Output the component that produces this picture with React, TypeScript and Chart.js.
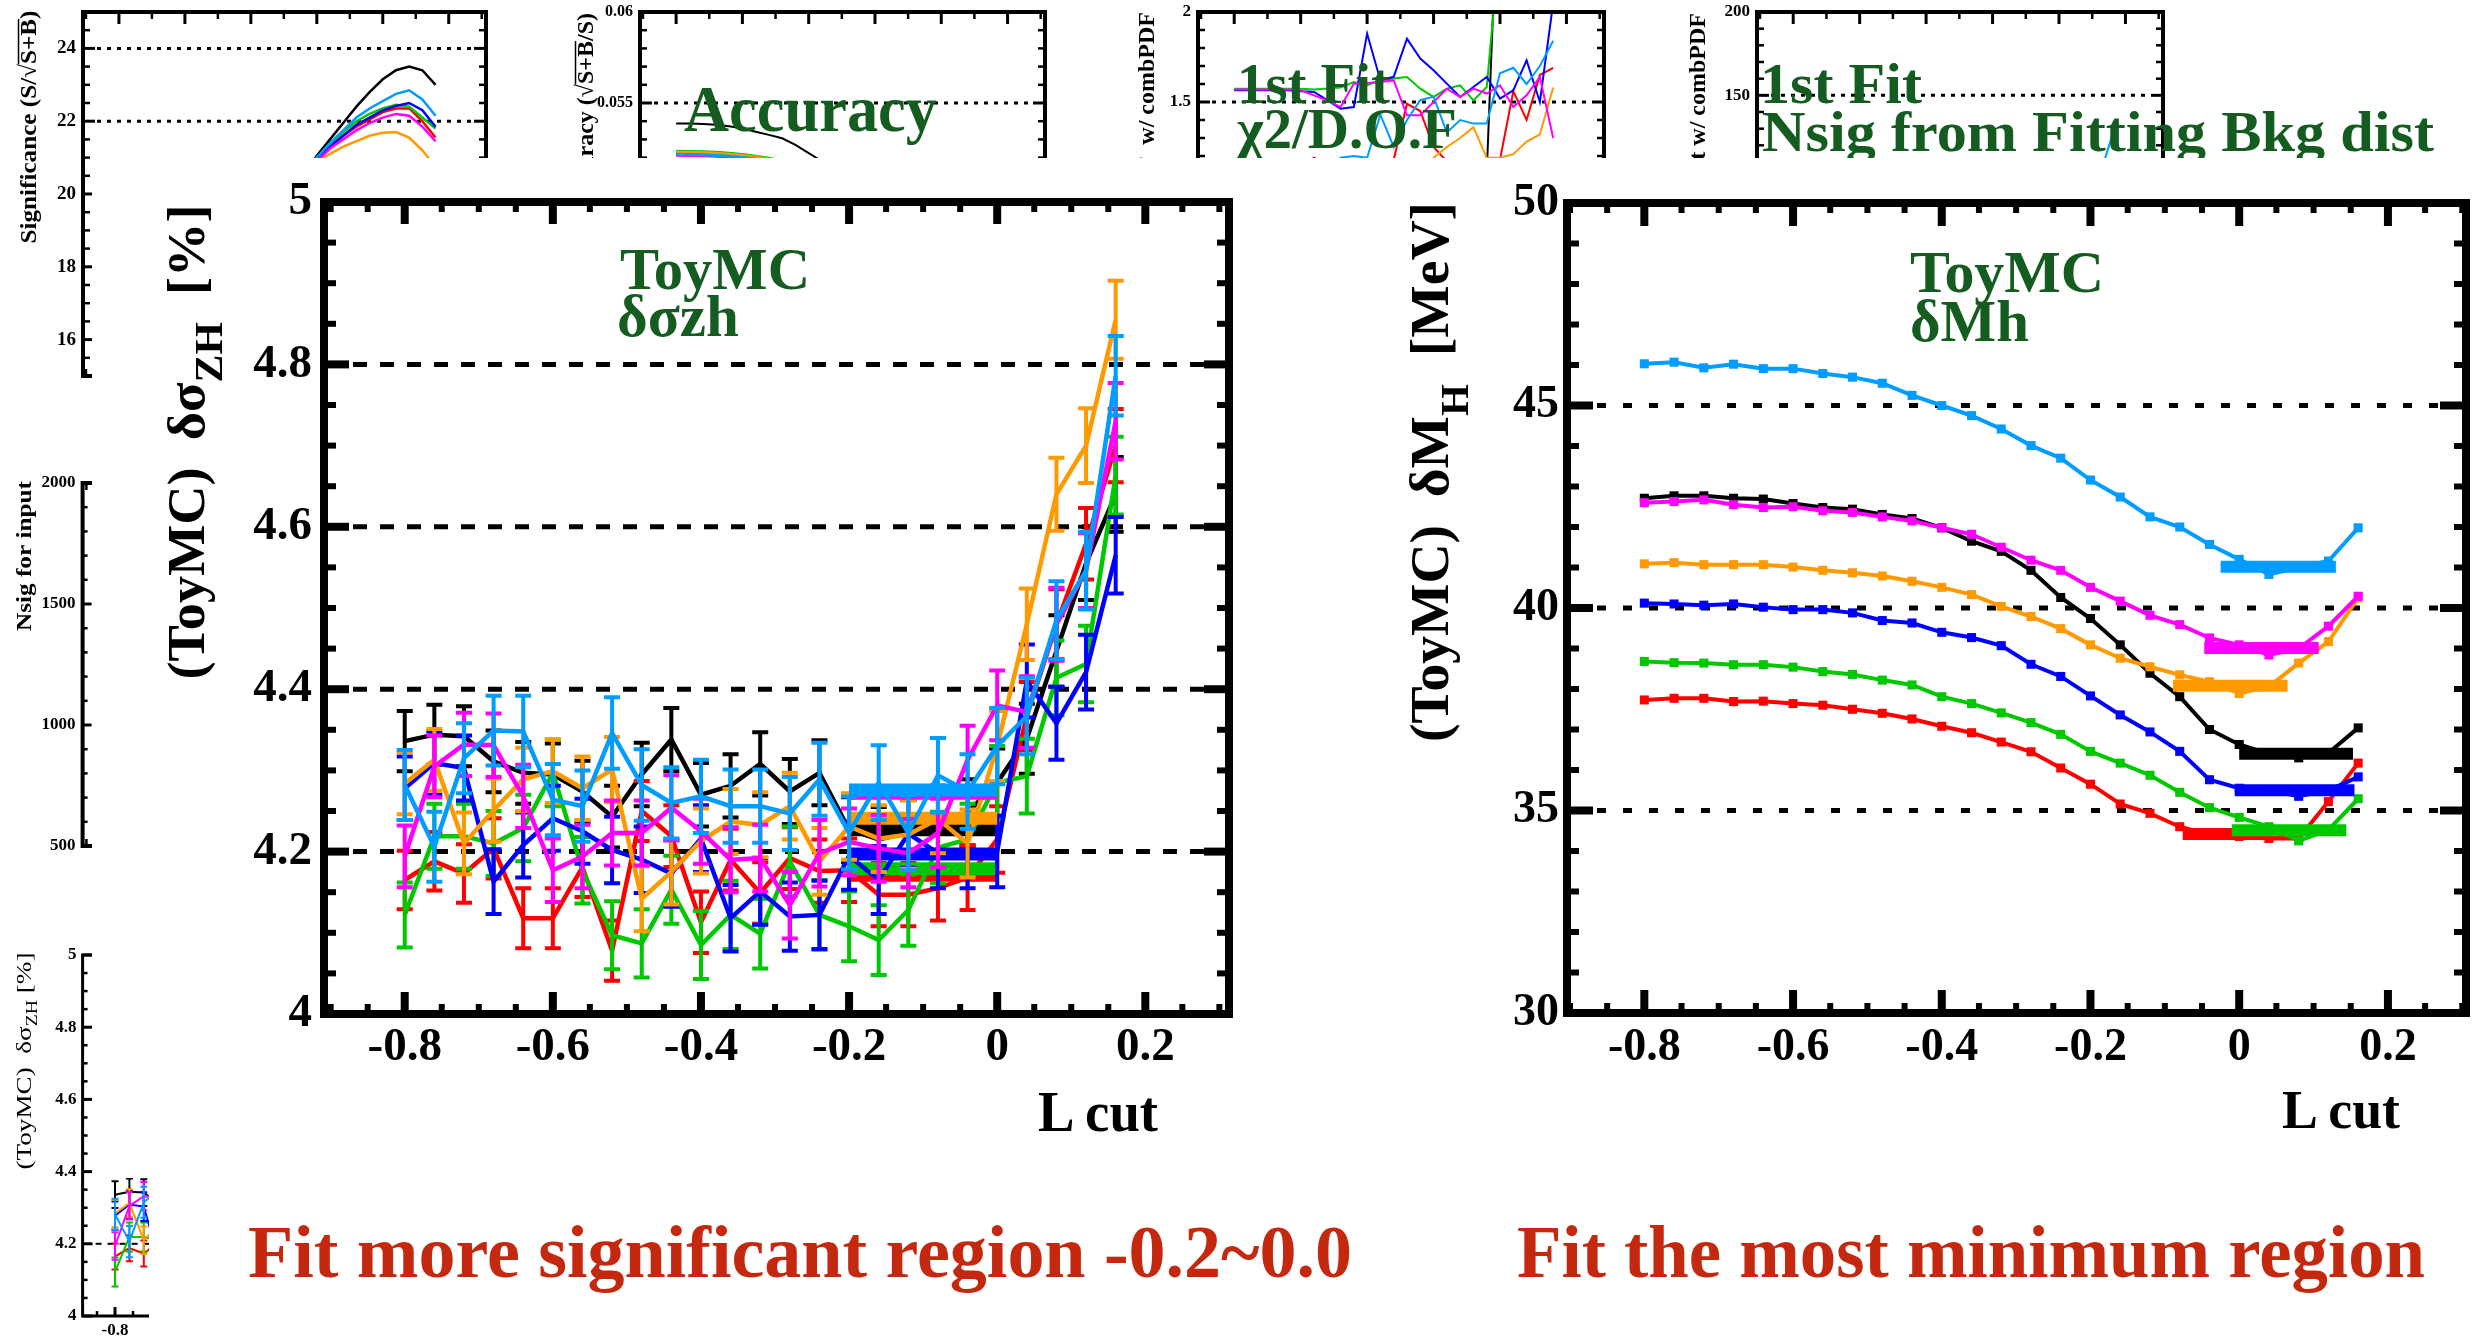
import React, { useEffect, useRef } from 'react';
import { Chart, registerables } from 'chart.js';

Chart.register(...registerables);

const W = 2477;
const H = 1341;
const SERIF = '"Liberation Serif", "Times New Roman", serif';
const GREEN_TEXT = '#145c20';
const RED_TEXT = '#c4290f';

// ---------------- categories (L cut) ----------------
const L_CUT = [-0.8, -0.76, -0.72, -0.68, -0.64, -0.6, -0.56, -0.52, -0.48, -0.44, -0.4, -0.36, -0.32, -0.28, -0.24, -0.2, -0.16, -0.12, -0.08, -0.04, 0, 0.04, 0.08, 0.12, 0.16];

// series order: black, red, green, blue, orange, magenta, light blue
const SERIES_COLORS = ['#000000', '#ff0000', '#00c800', '#0000ff', '#ff9900', '#ff00ff', '#009cff'];

// ---------------- δσZH [%] (ToyMC) ----------------
const DSIG_BLACK = [4.336, 4.344, 4.342, 4.311, 4.297, 4.295, 4.274, 4.243, 4.295, 4.338, 4.27, 4.281, 4.308, 4.274, 4.297, 4.227, 4.215, 4.223, 4.235, 4.248, 4.285, 4.339, 4.447, 4.555, 4.64];
const DSIG_RED = [4.165, 4.188, 4.173, 4.204, 4.118, 4.118, 4.181, 4.078, 4.25, 4.219, 4.113, 4.19, 4.149, 4.192, 4.176, 4.177, 4.147, 4.147, 4.155, 4.168, 4.215, 4.367, 4.48, 4.579, 4.7];
const DSIG_GREEN = [4.122, 4.219, 4.219, 4.21, 4.229, 4.297, 4.177, 4.097, 4.087, 4.153, 4.085, 4.122, 4.099, 4.188, 4.122, 4.108, 4.091, 4.128, 4.205, 4.215, 4.285, 4.293, 4.414, 4.431, 4.663];
const DSIG_BLUE = [4.278, 4.309, 4.303, 4.163, 4.208, 4.241, 4.225, 4.202, 4.19, 4.173, 4.216, 4.118, 4.151, 4.12, 4.122, 4.195, 4.165, 4.222, 4.198, 4.198, 4.2, 4.41, 4.358, 4.421, 4.565];
const DSIG_ORANGE = [4.284, 4.313, 4.21, 4.251, 4.289, 4.299, 4.278, 4.301, 4.142, 4.175, 4.213, 4.237, 4.233, 4.256, 4.188, 4.231, 4.216, 4.221, 4.24, 4.21, 4.33, 4.48, 4.64, 4.7, 4.855];
const DSIG_MAGENTA = [4.194, 4.305, 4.332, 4.331, 4.268, 4.177, 4.194, 4.223, 4.223, 4.254, 4.225, 4.19, 4.192, 4.134, 4.198, 4.212, 4.204, 4.198, 4.223, 4.313, 4.38, 4.372, 4.48, 4.546, 4.73];
const DSIG_LIGHTBLUE = [4.282, 4.206, 4.315, 4.349, 4.348, 4.264, 4.256, 4.346, 4.282, 4.26, 4.268, 4.256, 4.256, 4.247, 4.289, 4.223, 4.285, 4.223, 4.294, 4.274, 4.33, 4.367, 4.485, 4.546, 4.786];

const DSIG_ERR_BLACK = [0.037, 0.037, 0.037, 0.038, 0.038, 0.038, 0.038, 0.038, 0.039, 0.039, 0.039, 0.039, 0.039, 0.04, 0.04, 0.04, 0.04, 0.041, 0.041, 0.041, 0.042, 0.043, 0.044, 0.045, 0.046];
const DSIG_ERR_RED = [0.036, 0.036, 0.036, 0.037, 0.037, 0.037, 0.037, 0.037, 0.037, 0.038, 0.038, 0.038, 0.038, 0.038, 0.039, 0.039, 0.039, 0.039, 0.04, 0.04, 0.041, 0.042, 0.043, 0.044, 0.045];
const DSIG_ERR_GREEN = [0.04, 0.04, 0.04, 0.04, 0.041, 0.041, 0.041, 0.042, 0.042, 0.042, 0.042, 0.042, 0.043, 0.043, 0.043, 0.043, 0.043, 0.044, 0.044, 0.044, 0.045, 0.046, 0.046, 0.047, 0.048];
const DSIG_ERR_BLUE = [0.039, 0.039, 0.04, 0.04, 0.04, 0.04, 0.04, 0.041, 0.041, 0.041, 0.041, 0.041, 0.041, 0.042, 0.042, 0.042, 0.042, 0.042, 0.043, 0.043, 0.044, 0.045, 0.045, 0.046, 0.047];
const DSIG_ERR_ORANGE = [0.038, 0.038, 0.038, 0.039, 0.039, 0.039, 0.039, 0.04, 0.04, 0.04, 0.04, 0.04, 0.04, 0.041, 0.041, 0.041, 0.041, 0.042, 0.042, 0.042, 0.043, 0.044, 0.045, 0.046, 0.048];
const DSIG_ERR_MAGENTA = [0.038, 0.038, 0.039, 0.039, 0.039, 0.039, 0.039, 0.04, 0.04, 0.04, 0.04, 0.04, 0.041, 0.041, 0.041, 0.041, 0.041, 0.042, 0.042, 0.042, 0.043, 0.044, 0.045, 0.046, 0.047];
const DSIG_ERR_LIGHTBLUE = [0.043, 0.043, 0.043, 0.043, 0.044, 0.044, 0.044, 0.044, 0.044, 0.044, 0.045, 0.045, 0.045, 0.045, 0.045, 0.045, 0.046, 0.046, 0.046, 0.046, 0.047, 0.047, 0.048, 0.048, 0.049];

const DSIG_FIT_LEVEL = [4.227, 4.171, 4.179, 4.197, 4.241, 4.272, 4.276];
const DSIG_FIT_RANGE = [-0.2, 0];

const DSIG_SERIES = [DSIG_BLACK, DSIG_RED, DSIG_GREEN, DSIG_BLUE, DSIG_ORANGE, DSIG_MAGENTA, DSIG_LIGHTBLUE];
const DSIG_ERRORS = [DSIG_ERR_BLACK, DSIG_ERR_RED, DSIG_ERR_GREEN, DSIG_ERR_BLUE, DSIG_ERR_ORANGE, DSIG_ERR_MAGENTA, DSIG_ERR_LIGHTBLUE];

// ---------------- δMH [MeV] (ToyMC) ----------------
const DMH_BLACK = [42.71, 42.77, 42.77, 42.71, 42.69, 42.58, 42.48, 42.44, 42.31, 42.21, 41.98, 41.65, 41.4, 40.93, 40.26, 39.74, 39.09, 38.39, 37.81, 37.0, 36.63, 36.4, 36.3, 36.42, 37.04];
const DMH_RED = [37.73, 37.77, 37.77, 37.69, 37.7, 37.64, 37.6, 37.5, 37.4, 37.26, 37.08, 36.92, 36.69, 36.45, 36.05, 35.65, 35.16, 34.93, 34.6, 34.4, 34.36, 34.31, 34.31, 35.22, 36.17];
const DMH_GREEN = [38.68, 38.65, 38.64, 38.6, 38.6, 38.54, 38.43, 38.36, 38.22, 38.1, 37.81, 37.64, 37.41, 37.17, 36.88, 36.46, 36.17, 35.87, 35.45, 35.07, 34.83, 34.6, 34.25, 34.52, 35.29];
const DMH_BLUE = [40.12, 40.1, 40.07, 40.1, 40.02, 39.96, 39.96, 39.88, 39.69, 39.63, 39.4, 39.27, 39.07, 38.61, 38.31, 37.83, 37.36, 36.94, 36.46, 35.76, 35.55, 35.5, 35.35, 35.5, 35.83];
const DMH_ORANGE = [41.09, 41.12, 41.07, 41.07, 41.07, 41.01, 40.93, 40.87, 40.79, 40.66, 40.51, 40.33, 40.04, 39.79, 39.49, 39.09, 38.76, 38.55, 38.35, 38.18, 37.89, 38.06, 38.64, 39.17, 40.25];
const DMH_MAGENTA = [42.6, 42.63, 42.67, 42.55, 42.48, 42.5, 42.4, 42.36, 42.25, 42.15, 41.98, 41.82, 41.5, 41.18, 40.93, 40.51, 40.17, 39.82, 39.59, 39.26, 39.09, 38.84, 39.0, 39.55, 40.29];
const DMH_LIGHTBLUE = [46.03, 46.07, 45.93, 46.02, 45.91, 45.91, 45.79, 45.7, 45.55, 45.25, 45.0, 44.75, 44.42, 44.01, 43.7, 43.16, 42.74, 42.25, 42.0, 41.57, 41.2, 40.83, 41.0, 41.16, 41.98];

const DMH_FIT_LEVEL = [36.4, 34.42, 34.51, 35.5, 38.08, 39.01, 41.02];
const DMH_FIT_FROM = [0.0, -0.076, -0.01, -0.006, -0.089, -0.047, -0.025];
const DMH_FIT_TO = [0.153, 0.078, 0.144, 0.155, 0.065, 0.107, 0.13];

const DMH_SERIES = [DMH_BLACK, DMH_RED, DMH_GREEN, DMH_BLUE, DMH_ORANGE, DMH_MAGENTA, DMH_LIGHTBLUE];

// ---------------- background fragments ----------------
const SIG_X = [-0.24, -0.2, -0.16, -0.12, -0.08, -0.04, 0, 0.04, 0.08, 0.12, 0.16];
const SIG_BLACK = [20.5, 21.05, 21.5, 21.95, 22.4, 22.8, 23.15, 23.4, 23.5, 23.4, 23.0];
const SIG_RED = [20.5, 20.95, 21.3, 21.6, 21.85, 22.05, 22.25, 22.35, 22.35, 22.0, 21.55];
const SIG_GREEN = [20.5, 21.0, 21.35, 21.7, 22.0, 22.2, 22.35, 22.45, 22.4, 22.1, 21.8];
const SIG_BLUE = [20.5, 20.95, 21.3, 21.6, 21.9, 22.1, 22.3, 22.42, 22.5, 22.3, 21.85];
const SIG_ORANGE = [20.45, 20.9, 21.1, 21.3, 21.45, 21.6, 21.68, 21.7, 21.55, 21.2, 20.75];
const SIG_MAGENTA = [20.45, 20.9, 21.25, 21.5, 21.75, 21.95, 22.1, 22.2, 22.15, 21.85, 21.45];
const SIG_LIGHTBLUE = [20.5, 21.0, 21.4, 21.75, 22.1, 22.35, 22.55, 22.75, 22.85, 22.6, 22.15];
const SIG_SERIES = [SIG_BLACK, SIG_RED, SIG_GREEN, SIG_BLUE, SIG_ORANGE, SIG_MAGENTA, SIG_LIGHTBLUE];

const ACC_X = [-0.8, -0.76, -0.72, -0.68, -0.64, -0.6, -0.56, -0.52, -0.48, -0.44, -0.4, -0.36];
const ACC_BLACK = [0.05388, 0.05387, 0.05385, 0.0538, 0.05372, 0.0536, 0.05342, 0.05325, 0.05306, 0.0527, 0.05225, 0.0518];
const ACC_RED = [0.05226, 0.05225, 0.05223, 0.0522, 0.05215, 0.05208, 0.05199, 0.05187, 0.05171, 0.05151, 0.05121, 0.05091];
const ACC_GREEN = [0.05235, 0.05234, 0.05232, 0.05229, 0.05224, 0.05217, 0.05208, 0.05196, 0.0518, 0.0516, 0.0513, 0.051];
const ACC_BLUE = [0.05222, 0.05221, 0.05219, 0.05216, 0.05211, 0.05204, 0.05195, 0.05183, 0.05167, 0.05147, 0.05117, 0.05087];
const ACC_ORANGE = [0.0523, 0.05229, 0.05227, 0.05224, 0.05219, 0.05212, 0.05203, 0.05191, 0.05175, 0.05155, 0.05125, 0.05095];
const ACC_MAGENTA = [0.05213, 0.05212, 0.0521, 0.05207, 0.05202, 0.05195, 0.05186, 0.05174, 0.05158, 0.05138, 0.05108, 0.05078];
const ACC_LIGHTBLUE = [0.05218, 0.05217, 0.05215, 0.05212, 0.05207, 0.052, 0.05191, 0.05179, 0.05163, 0.05143, 0.05113, 0.05083];
const ACC_SERIES = [ACC_BLACK, ACC_RED, ACC_GREEN, ACC_BLUE, ACC_ORANGE, ACC_MAGENTA, ACC_LIGHTBLUE];

const CHI2_BLACK = [1.05, 1.05, 1.05, 1.05, 1.05, 1.05, 1.05, 1.05, 1.05, 1.05, 1.05, 1.05, 1.05, 1.05, 1.05, 1.05, 1.05, 1.05, 1.05, 1.1, 3.0, 3.0, 3.0, 3.0, 3.0];
const CHI2_RED = [1.12, 1.12, 1.12, 1.12, 1.12, 1.12, 1.19, 1.15, 1.12, 1.12, 1.12, 1.12, 1.18, 1.49, 1.45, 1.25, 1.17, 1.1, 1.12, 1.15, 1.18, 1.56, 1.4, 1.65, 1.69];
const CHI2_GREEN = [1.574, 1.574, 1.574, 1.574, 1.574, 1.574, 1.57, 1.575, 1.58, 1.611, 1.593, 1.62, 1.63, 1.639, 1.574, 1.528, 1.574, 1.593, 1.509, 1.583, 2.4, 2.4, 2.4, 2.4, 2.4];
const CHI2_BLUE = [1.565, 1.565, 1.565, 1.565, 1.565, 1.56, 1.556, 1.51, 1.463, 1.472, 1.88, 1.62, 1.64, 1.852, 1.741, 1.676, 1.602, 1.528, 1.583, 1.639, 1.519, 1.565, 1.732, 1.5, 2.05];
const CHI2_ORANGE = [1.0, 1.0, 1.0, 1.0, 1.0, 1.0, 1.0, 1.0, 1.0, 1.0, 1.0, 1.0, 1.0, 1.0, 1.0, 1.19, 1.25, 1.3, 1.36, 1.19, 1.19, 1.21, 1.28, 1.32, 1.58];
const CHI2_MAGENTA = [1.57, 1.57, 1.57, 1.57, 1.57, 1.565, 1.537, 1.509, 1.472, 1.602, 1.605, 1.611, 1.62, 1.426, 1.426, 1.5, 1.574, 1.528, 1.574, 1.547, 1.593, 1.472, 1.537, 1.639, 1.3];
const CHI2_LIGHTBLUE = [1.1, 1.1, 1.1, 1.1, 1.1, 1.1, 1.1, 1.1, 1.19, 1.2, 1.19, 1.43, 1.25, 1.4, 1.51, 1.53, 1.33, 1.4, 1.38, 1.38, 1.66, 1.69, 1.6, 1.7, 1.84];
const CHI2_SERIES = [CHI2_BLACK, CHI2_RED, CHI2_GREEN, CHI2_BLUE, CHI2_ORANGE, CHI2_MAGENTA, CHI2_LIGHTBLUE];

const NSIG_X = [0.12, 0.16];
const NSIG_LIGHTBLUE = [100, 126];

// ---------------- ticks ----------------
const LCUT_TICKS = [-0.8, -0.6, -0.4, -0.2, 0, 0.2];
const LCUT_TICK_LABELS = ['-0.8', '-0.6', '-0.4', '-0.2', '0', '0.2'];
const DSIG_Y_TICKS = [4, 4.2, 4.4, 4.6, 4.8, 5];
const DSIG_Y_LABELS = ['4', '4.2', '4.4', '4.6', '4.8', '5'];
const DMH_Y_TICKS = [30, 35, 40, 45, 50];
const DMH_Y_LABELS = ['30', '35', '40', '45', '50'];
const SIG_Y_TICKS = [16, 18, 20, 22, 24];
const SIG_Y_LABELS = ['16', '18', '20', '22', '24'];
const ACC_Y_TICKS = [0.05, 0.055, 0.06];
const ACC_Y_LABELS = ['0.05', '0.055', '0.06'];
const CHI2_Y_TICKS = [0.5, 1, 1.5, 2];
const CHI2_Y_LABELS = ['0.5', '1', '1.5', '2'];
const NSIG_Y_TICKS = [50, 100, 150, 200];
const NSIG_Y_LABELS = ['50', '100', '150', '200'];
const NSIGIN_Y_TICKS = [500, 1000, 1500, 2000];
const NSIGIN_Y_LABELS = ['500', '1000', '1500', '2000'];

// ---------------- drawing helpers ----------------
type Rich = { t: string; size: number; weight?: string; dy?: number; over?: boolean };
type Title = { parts: Rich[]; x: number; y: number; rotate?: boolean; length?: number; anchor?: 'center' | 'end' | 'start'; color?: string };

function drawRich(ctx: CanvasRenderingContext2D, tt: Title) {
  ctx.save();
  ctx.fillStyle = tt.color || '#000';
  ctx.textAlign = 'left';
  ctx.textBaseline = 'alphabetic';
  const fonts = tt.parts.map((p) => `${p.weight || 'bold'} ${p.size}px ${SERIF}`);
  const widths = tt.parts.map((p, i) => {
    ctx.font = fonts[i];
    return ctx.measureText(p.t).width;
  });
  const total = widths.reduce((s, w) => s + w, 0);
  const k = tt.length ? tt.length / total : 1;
  ctx.translate(tt.x, tt.y);
  if (tt.rotate) ctx.rotate(-Math.PI / 2);
  ctx.scale(k, 1);
  let cx = tt.anchor === 'end' ? -total : tt.anchor === 'start' ? 0 : -total / 2;
  tt.parts.forEach((p, i) => {
    ctx.font = fonts[i];
    const dy = p.dy || 0;
    ctx.fillText(p.t, cx, dy);
    if (p.over) ctx.fillRect(cx, dy - p.size * 0.76, widths[i], Math.max(1.5, p.size * 0.06));
    cx += widths[i];
  });
  ctx.restore();
}

function minorValues(min: number, max: number, step: number, majors: number[]) {
  const out: number[] = [];
  const n0 = Math.ceil(min / step - 1e-9);
  const n1 = Math.floor(max / step + 1e-9);
  for (let n = n0; n <= n1; n++) {
    const v = +(n * step).toFixed(6);
    if (!majors.some((m) => Math.abs(m - v) < step * 1e-3)) out.push(v);
  }
  return out;
}

function makeAxesPlugin(cfg: any) {
  return {
    id: 'frameAxes',
    beforeDatasetsDraw(chart: any) {
      const { ctx, chartArea: a, scales } = chart;
      if (!cfg.grid) return;
      ctx.save();
      ctx.strokeStyle = '#000';
      ctx.lineWidth = cfg.gridW;
      ctx.setLineDash(cfg.gridDash);
      ctx.lineCap = 'butt';
      for (const v of cfg.grid) {
        const y = scales.y.getPixelForValue(v);
        ctx.beginPath();
        ctx.moveTo(a.left + cfg.yMajLen + cfg.gridGap, y);
        ctx.lineTo(a.right - cfg.yMajLen, y);
        ctx.stroke();
      }
      ctx.restore();
    },
    afterDatasetsDraw(chart: any) {
      const { ctx, chartArea: a, scales } = chart;
      const xs = scales.x;
      const ys = scales.y;
      ctx.save();
      ctx.strokeStyle = '#000';
      ctx.fillStyle = '#000';
      ctx.lineCap = 'butt';
      ctx.setLineDash([]);
      const seg = (x1: number, y1: number, x2: number, y2: number, w: number) => {
        ctx.lineWidth = w;
        ctx.beginPath();
        ctx.moveTo(x1, y1);
        ctx.lineTo(x2, y2);
        ctx.stroke();
      };
      const inX = (p: number) => p > a.left + 1 && p < a.right - 1;
      const xMinor = minorValues(xs.min, xs.max, cfg.xMinorStep, cfg.xMajor);
      const yMinor = minorValues(ys.min, ys.max, cfg.yMinorStep, cfg.yMajor);
      for (const v of cfg.xMajor) {
        const p = xs.getPixelForValue(v);
        if (!inX(p)) continue;
        seg(p, a.bottom, p, a.bottom - cfg.xMajLen, cfg.majW);
        seg(p, a.top, p, a.top + cfg.xMajLen, cfg.majW);
      }
      for (const v of xMinor) {
        const p = xs.getPixelForValue(v);
        if (!inX(p)) continue;
        seg(p, a.bottom, p, a.bottom - cfg.xMinLen, cfg.minW);
        seg(p, a.top, p, a.top + cfg.xMinLen, cfg.minW);
      }
      for (const v of cfg.yMajor) {
        const p = ys.getPixelForValue(v);
        seg(a.left, p, a.left + cfg.yMajLen, p, cfg.majW);
        seg(a.right, p, a.right - cfg.yMajLen, p, cfg.majW);
      }
      for (const v of yMinor) {
        const p = ys.getPixelForValue(v);
        if (p < a.top + 1 || p > a.bottom - 1) continue;
        seg(a.left, p, a.left + cfg.yMinLen, p, cfg.minW);
        seg(a.right, p, a.right - cfg.yMinLen, p, cfg.minW);
      }
      ctx.lineWidth = cfg.frameW;
      ctx.lineJoin = 'miter';
      ctx.strokeRect(a.left, a.top, a.right - a.left, a.bottom - a.top);

      if (cfg.xLabels) {
        ctx.font = cfg.xFont;
        ctx.textAlign = 'center';
        ctx.textBaseline = 'alphabetic';
        cfg.xMajor.forEach((v: number, i: number) => {
          ctx.fillText(cfg.xLabels[i], xs.getPixelForValue(v), a.bottom + cfg.xLabelDy);
        });
      }
      if (cfg.yLabels) {
        ctx.font = cfg.yFont;
        ctx.textAlign = 'right';
        ctx.textBaseline = 'middle';
        cfg.yMajor.forEach((v: number, i: number) => {
          ctx.fillText(cfg.yLabels[i], a.left - cfg.yLabelGap, ys.getPixelForValue(v));
        });
      }
      (cfg.titles || []).forEach((t: Title) => drawRich(ctx, t));
      ctx.restore();
    },
  };
}

const errorBarsPlugin = {
  id: 'errBars',
  afterDatasetDraw(chart: any, args: any) {
    const ds: any = chart.data.datasets[args.index];
    if (!ds.errors) return;
    const ctx = chart.ctx;
    const ys = chart.scales.y;
    const a = chart.chartArea;
    ctx.save();
    ctx.beginPath();
    ctx.rect(a.left, a.top, a.right - a.left, a.bottom - a.top);
    ctx.clip();
    ctx.strokeStyle = ds.borderColor;
    ctx.lineWidth = ds.errWidth;
    ctx.lineCap = 'butt';
    args.meta.data.forEach((pt: any, i: number) => {
      const v = ds.data[i].y;
      const e = ds.errors[i];
      const x = pt.x;
      const y1 = ys.getPixelForValue(v + e);
      const y2 = ys.getPixelForValue(v - e);
      ctx.beginPath();
      ctx.moveTo(x, y1);
      ctx.lineTo(x, y2);
      ctx.moveTo(x - ds.capHalf, y1);
      ctx.lineTo(x + ds.capHalf, y1);
      ctx.moveTo(x - ds.capHalf, y2);
      ctx.lineTo(x + ds.capHalf, y2);
      ctx.stroke();
    });
    ctx.restore();
  },
};

function lineDS(xs: number[], ys: number[], color: string, width: number, order: number, extra: any = {}) {
  return {
    data: xs.map((x, i) => ({ x, y: ys[i] })),
    borderColor: color,
    backgroundColor: color,
    borderWidth: width,
    pointRadius: 0,
    fill: false,
    tension: 0,
    order,
    ...extra,
  };
}

function buildConfig(area: { left: number; top: number; right: number; bottom: number }, xr: number[], yr: number[], datasets: any[], axes: any) {
  return {
    type: 'line',
    data: { datasets },
    options: {
      animation: false,
      responsive: false,
      events: [],
      layout: { padding: { left: area.left, top: area.top, right: W - area.right, bottom: H - area.bottom } },
      scales: {
        x: { type: 'linear', display: false, min: xr[0], max: xr[1] },
        y: { type: 'linear', display: false, min: yr[0], max: yr[1] },
      },
      plugins: { legend: { display: false }, tooltip: { enabled: false } },
    },
    plugins: [makeAxesPlugin(axes), errorBarsPlugin],
  };
}

function fragmentAxes(extra: any) {
  return {
    frameW: 4,
    majW: 3,
    minW: 2.5,
    xMajLen: 12,
    xMinLen: 7,
    yMajLen: 12,
    yMinLen: 7,
    xMajor: LCUT_TICKS,
    xMinorStep: 0.1,
    gridDash: [4, 6],
    gridW: 3,
    gridGap: 2,
    yFont: `bold 17px ${SERIF}`,
    yLabelGap: 7,
    ...extra,
  };
}

// ---------------- chart builders ----------------
function buildLeft() {
  const ds: any[] = [];
  DSIG_SERIES.forEach((ys, s) => {
    ds.push(lineDS(L_CUT, ys, SERIES_COLORS[s], 4.5, 100 - 2 * s, { errors: DSIG_ERRORS[s], errWidth: 4, capHalf: 8 }));
    ds.push(lineDS(DSIG_FIT_RANGE, [DSIG_FIT_LEVEL[s], DSIG_FIT_LEVEL[s]], SERIES_COLORS[s], 13, 99 - 2 * s, { borderCapStyle: 'butt' }));
  });
  return buildConfig({ left: 324, top: 202, right: 1229, bottom: 1014 }, [-0.909, 0.313], [4, 5], ds, {
    frameW: 8, majW: 8, minW: 6, xMajLen: 22, xMinLen: 10, yMajLen: 25, yMinLen: 12,
    xMajor: LCUT_TICKS, xMinorStep: 0.05, yMajor: DSIG_Y_TICKS, yMinorStep: 0.05,
    xLabels: LCUT_TICK_LABELS, yLabels: DSIG_Y_LABELS,
    xFont: `bold 47px ${SERIF}`, yFont: `bold 47px ${SERIF}`, xLabelDy: 46, yLabelGap: 12,
    grid: [4.2, 4.4, 4.6, 4.8], gridDash: [14, 13], gridW: 5, gridGap: 4,
    titles: [{
      parts: [{ t: '(ToyMC)  δσ', size: 52 }, { t: 'ZH', size: 40, dy: 18 }, { t: '  [%]', size: 52 }],
      x: 204, y: 442, rotate: true, length: 475,
    }],
  });
}

function buildRight() {
  const ds: any[] = [];
  DMH_SERIES.forEach((ys, s) => {
    ds.push(lineDS(L_CUT, ys, SERIES_COLORS[s], 4, 100 - 2 * s, { pointRadius: 6.4, pointStyle: 'rect', pointBorderWidth: 0, pointBackgroundColor: SERIES_COLORS[s] }));
    ds.push(lineDS([DMH_FIT_FROM[s], DMH_FIT_TO[s]], [DMH_FIT_LEVEL[s], DMH_FIT_LEVEL[s]], SERIES_COLORS[s], 12, 99 - 2 * s, { borderCapStyle: 'butt' }));
  });
  return buildConfig({ left: 1567, top: 203, right: 2466, bottom: 1013 }, [-0.904, 0.305], [30, 50], ds, {
    frameW: 8, majW: 8, minW: 6, xMajLen: 23, xMinLen: 10, yMajLen: 26, yMinLen: 12,
    xMajor: LCUT_TICKS, xMinorStep: 0.05, yMajor: DMH_Y_TICKS, yMinorStep: 1,
    xLabels: LCUT_TICK_LABELS, yLabels: DMH_Y_LABELS,
    xFont: `bold 46px ${SERIF}`, yFont: `bold 46px ${SERIF}`, xLabelDy: 47, yLabelGap: 8,
    grid: [35, 40, 45], gridDash: [9, 17], gridW: 5, gridGap: 4,
    titles: [{
      parts: [{ t: '(ToyMC)  δM', size: 54 }, { t: 'H', size: 40, dy: 20 }, { t: '  [MeV]', size: 54 }],
      x: 1448, y: 472, rotate: true, length: 540,
    }],
  });
}

function buildMini() {
  const ds: any[] = [];
  DSIG_SERIES.forEach((ys, s) => {
    ds.push(lineDS(L_CUT, ys, SERIES_COLORS[s], 2, 100 - 2 * s, { errors: DSIG_ERRORS[s], errWidth: 2, capHalf: 3.5 }));
    ds.push(lineDS(DSIG_FIT_RANGE, [DSIG_FIT_LEVEL[s], DSIG_FIT_LEVEL[s]], SERIES_COLORS[s], 6, 99 - 2 * s, { borderCapStyle: 'butt' }));
  });
  return buildConfig({ left: 82.6, top: 955, right: 514.6, bottom: 1316 }, [-0.89, 0.31], [4, 5], ds, {
    frameW: 3, majW: 3, minW: 2.5, xMajLen: 9, xMinLen: 5, yMajLen: 10, yMinLen: 5,
    xMajor: LCUT_TICKS, xMinorStep: 0.05, yMajor: DSIG_Y_TICKS, yMinorStep: 0.05,
    xLabels: LCUT_TICK_LABELS, yLabels: DSIG_Y_LABELS,
    xFont: `bold 17px ${SERIF}`, yFont: `bold 17px ${SERIF}`, xLabelDy: 19, yLabelGap: 6,
    grid: [4.2, 4.4, 4.6, 4.8], gridDash: [6, 6], gridW: 2, gridGap: 3,
    titles: [{
      parts: [{ t: '(ToyMC)  δσ', size: 22, weight: 'normal' }, { t: 'ZH', size: 16, dy: 6, weight: 'normal' }, { t: ' [%]', size: 22, weight: 'normal' }],
      x: 31, y: 1061, rotate: true, length: 217,
    }],
  });
}

function buildSig() {
  const ds = SIG_SERIES.map((ys, s) => lineDS(SIG_X, ys, SERIES_COLORS[s], 2.5, 100 - s));
  return buildConfig({ left: 83, top: 12, right: 486, bottom: 376 }, [-0.909, 0.313], [15, 25], ds, fragmentAxes({
    yMajor: SIG_Y_TICKS, yMinorStep: 0.5, yLabels: SIG_Y_LABELS, yFont: `bold 19px ${SERIF}`,
    grid: [22, 24],
    titles: [{
      parts: [{ t: 'Significance (S/√', size: 24 }, { t: 'S+B', size: 24, over: true }, { t: ')', size: 24 }],
      x: 36, y: 127, rotate: true, length: 233,
    }],
  }));
}

function buildAcc() {
  const ds = ACC_SERIES.map((ys, s) => lineDS(ACC_X, ys, SERIES_COLORS[s], s === 0 ? 2 : 3, s === 0 ? 50 : 100 - s));
  return buildConfig({ left: 640, top: 12, right: 1045, bottom: 285 }, [-0.909, 0.313], [0.045, 0.06], ds, fragmentAxes({
    yMajor: ACC_Y_TICKS, yMinorStep: 0.001, yLabels: ACC_Y_LABELS, yFont: `bold 16px ${SERIF}`,
    grid: [0.055],
    titles: [{
      parts: [{ t: 'Accuracy (√', size: 24 }, { t: 'S+B', size: 24, over: true }, { t: '/S)', size: 24 }],
      x: 593, y: 13, rotate: true, anchor: 'end',
    }],
  }));
}

function buildChi2() {
  const ds = CHI2_SERIES.map((ys, s) => lineDS(L_CUT, ys, SERIES_COLORS[s], 2, 100 - s));
  return buildConfig({ left: 1198, top: 12, right: 1604, bottom: 282 }, [-0.909, 0.313], [0.5, 2], ds, fragmentAxes({
    yMajor: CHI2_Y_TICKS, yMinorStep: 0.1, yLabels: CHI2_Y_LABELS, yFont: `bold 17px ${SERIF}`,
    grid: [1.5],
    titles: [{ parts: [{ t: 'χ2/D.O.F  w/ combPDF', size: 24 }], x: 1154, y: 12, rotate: true, anchor: 'end' }],
  }));
}

function buildNsig() {
  const ds = [lineDS(NSIG_X, NSIG_LIGHTBLUE, SERIES_COLORS[6], 2, 100)];
  return buildConfig({ left: 1757, top: 12, right: 2163, bottom: 262 }, [-0.909, 0.313], [50, 200], ds, fragmentAxes({
    yMajor: NSIG_Y_TICKS, yMinorStep: 10, yLabels: NSIG_Y_LABELS, yFont: `bold 17px ${SERIF}`,
    grid: [150],
    titles: [{ parts: [{ t: 'Nsig 1st Fit w/ combPDF', size: 24 }], x: 1705, y: 13, rotate: true, anchor: 'end' }],
  }));
}

function buildNsigInput() {
  return buildConfig({ left: 82.6, top: 483, right: 600, bottom: 846 }, [-0.909, 0.313], [500, 2000], [], fragmentAxes({
    yMajor: NSIGIN_Y_TICKS, yMinorStep: 100, yLabels: NSIGIN_Y_LABELS, yFont: `bold 17px ${SERIF}`,
    yMajLen: 9, yMinLen: 5,
    titles: [{ parts: [{ t: 'Nsig for input', size: 22 }], x: 31, y: 556, rotate: true, length: 150 }],
  }));
}

// ---------------- components ----------------
function ChartCanvas({ build }: { build: () => any }) {
  const ref = useRef<HTMLCanvasElement>(null);
  useEffect(() => {
    const chart = new Chart(ref.current as HTMLCanvasElement, build() as any);
    return () => chart.destroy();
  }, []);
  return <canvas ref={ref} width={W} height={H} style={{ position: 'absolute', left: 0, top: 0, width: W, height: H }} />;
}

const MEASURE = document.createElement('canvas').getContext('2d') as CanvasRenderingContext2D;

function FitText({ text, left, baseline, width, size, bold = false, color }: { text: string; left: number; baseline: number; width: number; size: number; bold?: boolean; color: string }) {
  const weight = bold ? 'bold' : 'normal';
  MEASURE.font = `${weight} ${size}px ${SERIF}`;
  const natural = MEASURE.measureText(text).width || 1;
  const k = width / natural;
  return (
    <div
      style={{
        position: 'absolute',
        left,
        top: baseline - 0.8375 * size,
        fontFamily: SERIF,
        fontSize: size,
        fontWeight: weight as any,
        lineHeight: `${size}px`,
        color,
        whiteSpace: 'pre',
        transform: `scaleX(${k})`,
        transformOrigin: '0 0',
      }}
    >
      {text}
    </div>
  );
}

export default function App() {
  return (
    <div style={{ position: 'absolute', left: 0, top: 0, width: W, height: H, overflow: 'hidden', background: '#ffffff' }}>
      {/* background fragments (partly hidden) */}
      <ChartCanvas build={buildSig} />
      <ChartCanvas build={buildAcc} />
      <ChartCanvas build={buildChi2} />
      <ChartCanvas build={buildNsig} />
      <ChartCanvas build={buildNsigInput} />
      <FitText text="Accuracy" left={684} baseline={131} width={253} size={66} bold color={GREEN_TEXT} />
      <FitText text="1st Fit" left={1237} baseline={104} width={153} size={58} bold color={GREEN_TEXT} />
      <FitText text="χ2/D.O.F" left={1237} baseline={149} width={220} size={58} bold color={GREEN_TEXT} />
      <FitText text="1st Fit" left={1760} baseline={104} width={162} size={58} bold color={GREEN_TEXT} />
      <FitText text="Nsig from Fitting Bkg dist" left={1762} baseline={152} width={672} size={58} bold color={GREEN_TEXT} />
      <div style={{ position: 'absolute', left: 92, top: 158, width: W - 92, height: H - 158, background: '#ffffff' }} />
      <div style={{ position: 'absolute', left: 0, top: 0, width: 149, height: H, overflow: 'hidden' }}>
        <ChartCanvas build={buildMini} />
      </div>
      <div style={{ position: 'absolute', left: 92, top: 930, width: 70, height: 248, background: '#ffffff' }} />

      {/* main charts */}
      <ChartCanvas build={buildLeft} />
      <ChartCanvas build={buildRight} />

      <FitText text="ToyMC" left={620} baseline={289} width={190} size={60} bold color={GREEN_TEXT} />
      <FitText text="δσzh" left={617} baseline={336} width={122} size={60} bold color={GREEN_TEXT} />
      <FitText text="ToyMC" left={1910} baseline={292} width={194} size={60} bold color={GREEN_TEXT} />
      <FitText text="δMh" left={1910} baseline={341} width={119} size={60} bold color={GREEN_TEXT} />
      <FitText text="L cut" left={1038} baseline={1131} width={123} size={56} bold color="#000000" />
      <FitText text="L cut" left={2282} baseline={1128} width={121} size={54} bold color="#000000" />
      <FitText text="Fit more significant region -0.2~0.0" left={248} baseline={1277} width={1104} size={74} bold color={RED_TEXT} />
      <FitText text="Fit the most minimum region" left={1517} baseline={1277} width={908} size={74} bold color={RED_TEXT} />
    </div>
  );
}
